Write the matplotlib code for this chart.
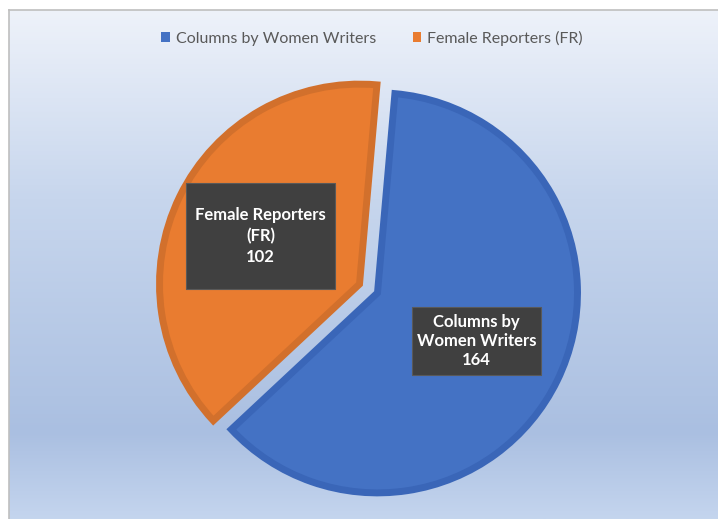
import numpy as np
import matplotlib.pyplot as plt
import matplotlib as mpl
from matplotlib.colors import LinearSegmentedColormap
from matplotlib.patches import Patch, Rectangle
from matplotlib.transforms import Bbox

mpl.rcParams['font.family'] = ['Lato', 'DejaVu Sans']

categories = ['Columns by Women Writers', 'Female Reporters (FR)']
label_lines = ['Columns by\nWomen Writers', 'Female Reporters\n(FR)']
values = [164, 102]

fill_colors = ['#4472C4', '#E97C30']
edge_colors = ['#3A66B8', '#D2702C']

W, H = 718, 519
fig = plt.figure(figsize=(W / 100, H / 100), dpi=100)
fig.patch.set_facecolor('white')

# chart area background: office style light gradient
bg = fig.add_axes([9 / W, 0, (W - 9) / W, (H - 10) / H])
stops = [(0.0, '#EEF2FA'), (0.37, '#C7D6ED'), (0.76, '#AFC3E3'),
         (0.83, '#AABFE1'), (1.0, '#C4D5EE')]
cmap = LinearSegmentedColormap.from_list('bg', stops)
grad = np.linspace(0, 1, 512).reshape(-1, 1)
bg.imshow(grad, aspect='auto', cmap=cmap, extent=[0, 1, 0, 1], origin='upper')
bg.set_xlim(0, 1), bg.set_ylim(0, 1)
bg.set_xticks([]), bg.set_yticks([])
for side in ['right', 'bottom']:
    bg.spines[side].set_visible(False)
for side in ['left', 'top']:
    bg.spines[side].set_color('#BFBFBF')
    bg.spines[side].set_linewidth(1.2)

# pie axes, 1 data unit = R_PX pixels
R_PX = 198.0
cx, cy = 368.5, H - 288.5
half = 250
ax = fig.add_axes([(cx - half) / W, (cy - half) / H, 2 * half / W, 2 * half / H])
ax.set_xlim(-half / R_PX, half / R_PX)
ax.set_ylim(-half / R_PX, half / R_PX)
ax.axis('off')

texts = [f'{lab}\n{v}' for lab, v in zip(label_lines, values)]
wedges, lbls = ax.pie(values, labels=texts, colors=fill_colors, startangle=85,
                      counterclock=False, explode=[0.05, 0.05], labeldistance=0.55,
                      radius=1.0, wedgeprops=dict(linewidth=5))
for w, ec in zip(wedges, edge_colors):
    w.set_edgecolor(ec)
    w.set_joinstyle('miter')

spacings = [1.2, 1.35]
for t, ls in zip(lbls, spacings):
    t.set_ha('center'), t.set_va('center')
    t.set_multialignment('center')
    t.set_color('white'), t.set_fontweight('bold'), t.set_fontsize(12)
    t.set_linespacing(ls)
    t.set_zorder(5)

# data label boxes (padding in px: x, y)
pads = [(5, 7), (9, 24)]
fig.canvas.draw()
rend = fig.canvas.get_renderer()
for t, (px, py) in zip(lbls, pads):
    bb = t.get_window_extent(rend)
    bb = Bbox([[bb.x0 - px, bb.y0 - py], [bb.x1 + px, bb.y1 + py]])
    bd = bb.transformed(ax.transData.inverted())
    rect = Rectangle((bd.x0, bd.y0), bd.width, bd.height, facecolor='#404040',
                     edgecolor='#595959', linewidth=0.8, zorder=4)
    ax.add_patch(rect)

handles = [Patch(facecolor=c, edgecolor='none') for c in fill_colors]
fig.legend(handles, categories, loc='center', bbox_to_anchor=(372 / W, 1 - 38 / H),
           ncol=2, frameon=False, fontsize=11.5, labelcolor='#595959',
           handlelength=0.55, handleheight=0.55, handletextpad=0.35, columnspacing=2.3)

fig.savefig('out.png', dpi=100)
